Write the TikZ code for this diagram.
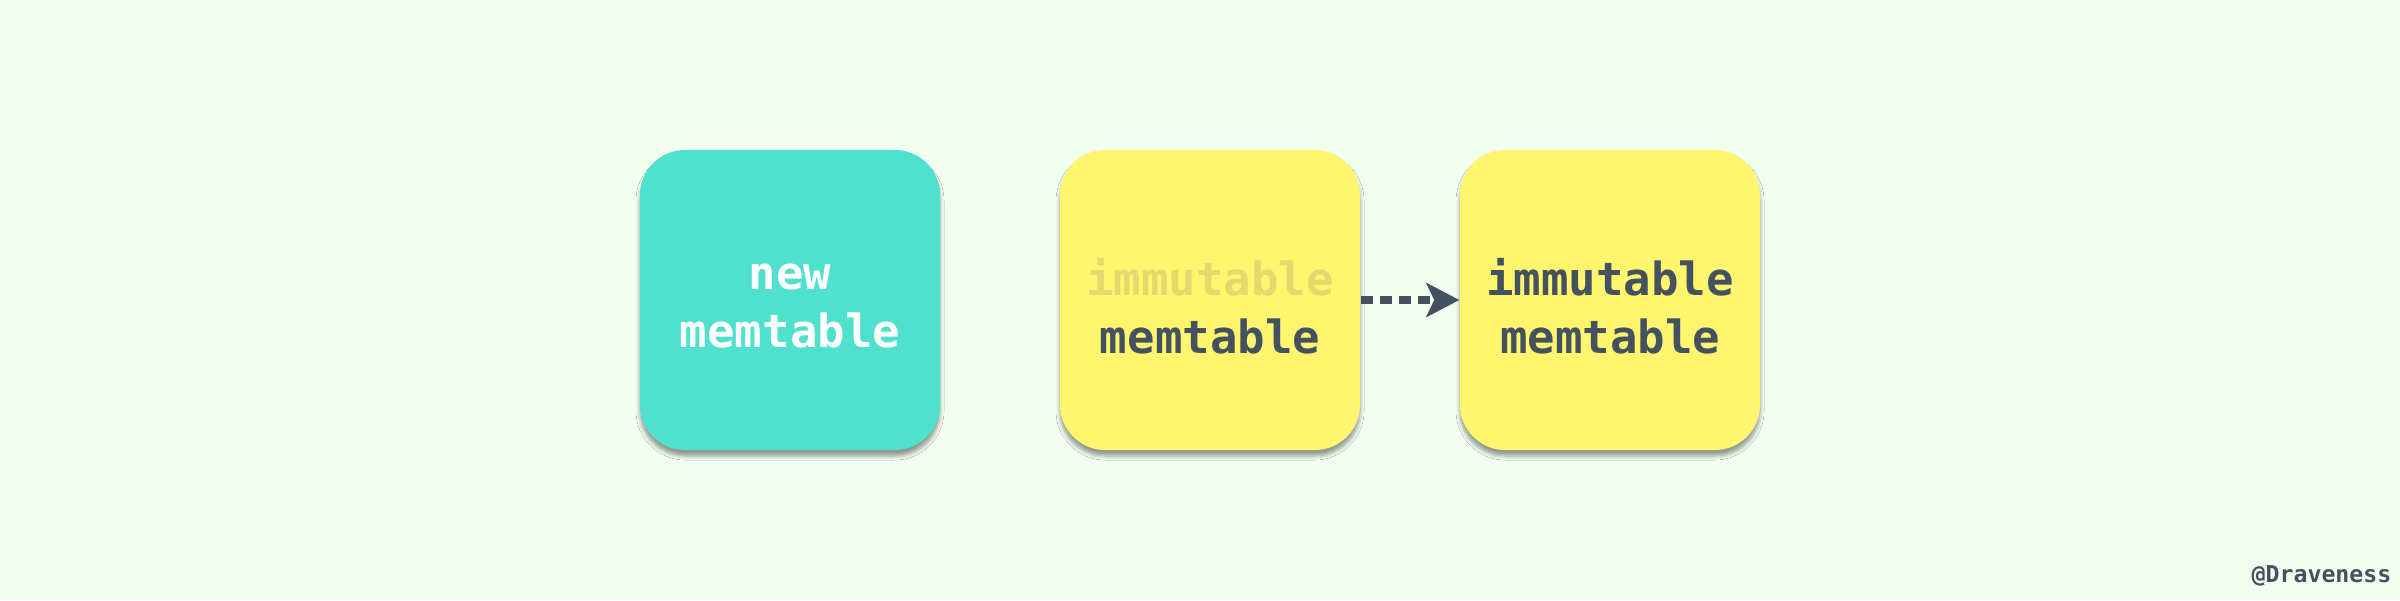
\documentclass[tikz,border=0pt]{standalone}
\usepackage{fontspec}
\setmonofont{DejaVu Sans Mono}
\usetikzlibrary{shadows.blur,arrows.meta}
\definecolor{bg}{HTML}{F2FFF0}
\definecolor{teal}{HTML}{4FE0CE}
\definecolor{yel}{HTML}{FFF56E}
\definecolor{ink}{HTML}{44525F}
\definecolor{faded}{HTML}{E2DA6C}
\tikzset{
  box/.style={rounded corners=0.45cm, minimum width=3cm, minimum height=3cm, inner sep=0pt,
    blur shadow={shadow xshift=0pt, shadow yshift=-0.06cm, shadow blur radius=0.04cm, shadow opacity=40}},
  boxtext/.style={align=center, inner sep=0pt, yshift=-0.06cm,
    font=\ttfamily\bfseries\fontsize{13}{16.4}\selectfont},
  newbox/.style={box, fill=teal},
  immbox/.style={box, fill=yel},
  flow/.style={ink, line width=2.2pt, dash pattern=on 3.6pt off 1.8pt,
    -{Stealth[length=0.33cm, width=0.34cm, inset=0.08cm]}}
}
\begin{document}
\begin{tikzpicture}
\fill[bg] (0,0) rectangle (24,6);
\useasboundingbox (0,0) rectangle (24,6);
\node[newbox, label={[boxtext, text=white]center:new\\memtable}] (new) at (7.9,3) {};
\node[immbox, label={[boxtext, text=ink]center:\textcolor{faded}{immutable}\\memtable}] (imm1) at (12.1,3) {};
\node[immbox, label={[boxtext, text=ink]center:immutable\\memtable}] (imm2) at (16.1,3) {};
\draw[flow] (imm1.east) -- (imm2.west);
\node[anchor=base east, text=ink, font=\ttfamily\bfseries\fontsize{6.6}{8}\selectfont, inner sep=0pt] (mark) at (23.92,0.18) {@Draveness};
\end{tikzpicture}
\end{document}
